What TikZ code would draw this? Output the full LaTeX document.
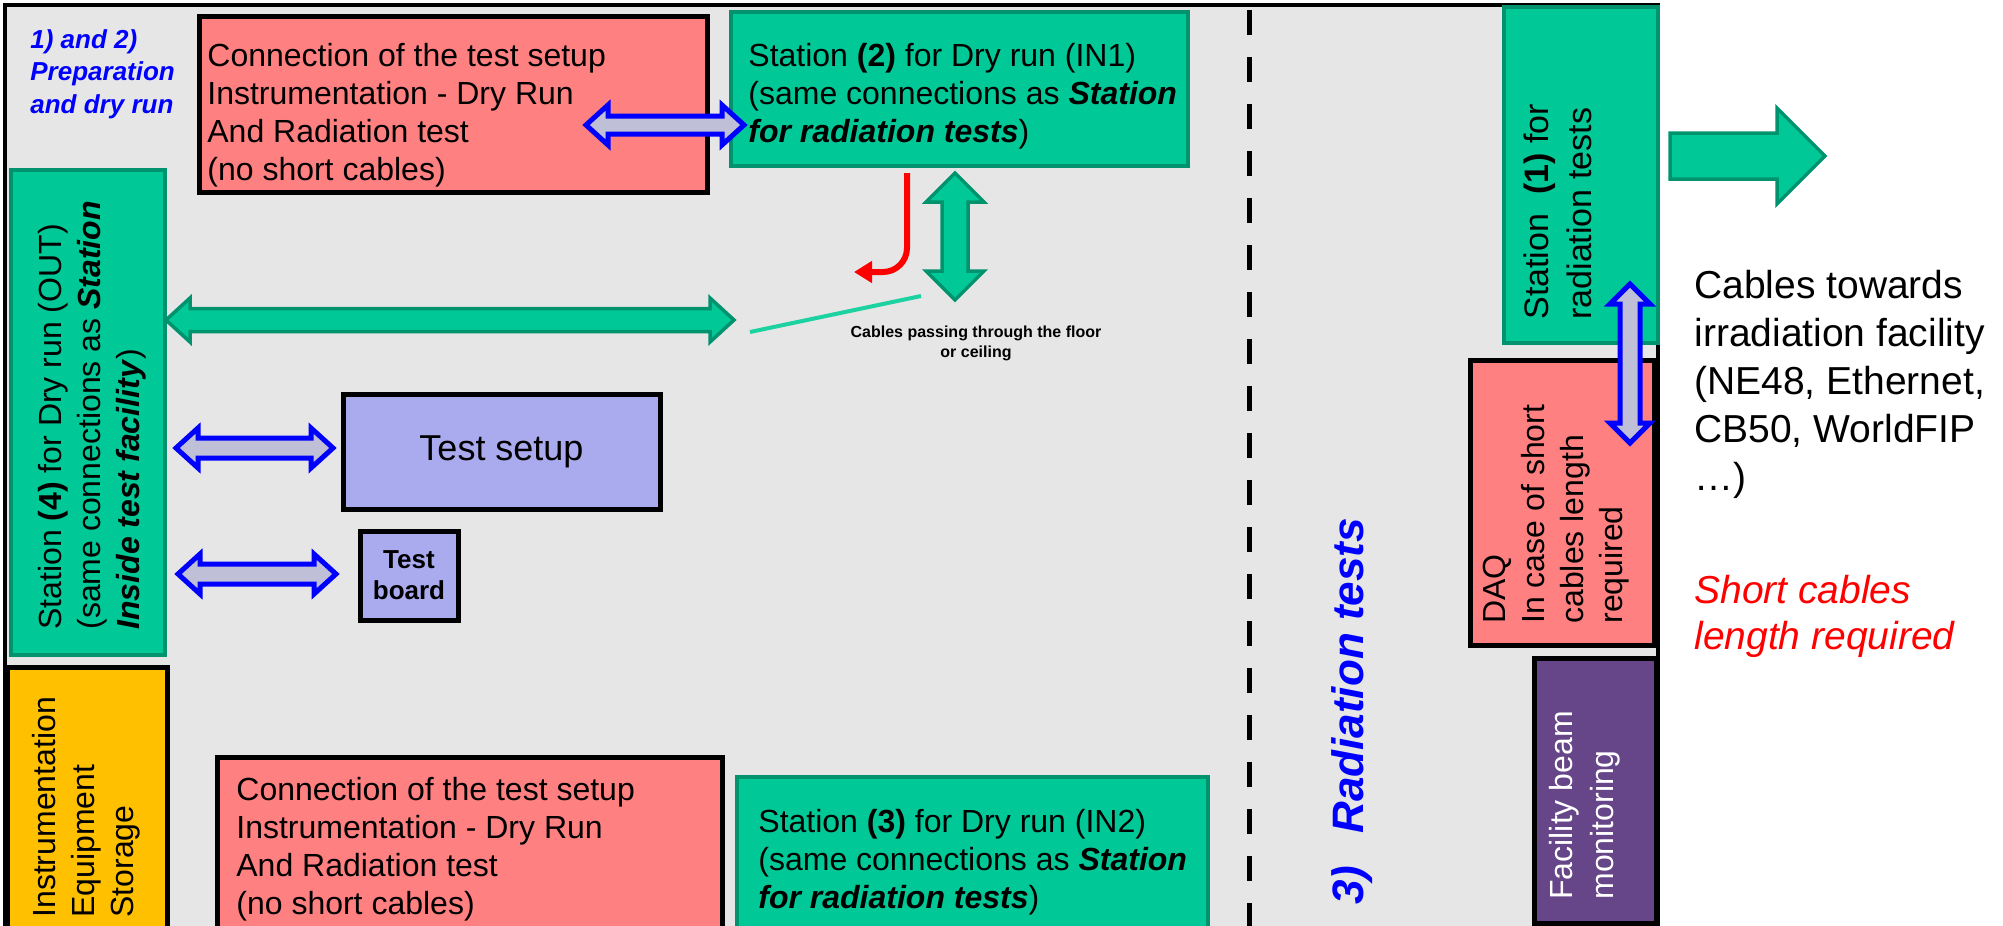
\documentclass[tikz,border=0pt]{standalone}
\usepackage{fontspec}
\setmainfont{Liberation Sans}
\usetikzlibrary{calc, fit, arrows.meta}
\definecolor{roomGray}{HTML}{E6E6E6}
\definecolor{stationGreen}{HTML}{00C896}
\definecolor{stationEdge}{HTML}{00936E}
\definecolor{connRed}{HTML}{FF8080}
\definecolor{setupBlue}{HTML}{AAAAEE}
\definecolor{linkFill}{HTML}{BFBFD8}
\definecolor{beamPurple}{HTML}{664688}
\definecolor{storeYellow}{HTML}{FFC000}
\definecolor{cableGreen}{HTML}{1CD2A0}

% block arrows: [style]{from}{to}{half shaft}{half head}{head length}
\newcommand{\dblarrow}[6][]{%
  \draw[#1] (#2) -- ($(#2)!#6!(#3)!#5!90:(#3)$) -- ($(#2)!#6!(#3)!#4!90:(#3)$)
    -- ($(#3)!#6!(#2)!#4!-90:(#2)$) -- ($(#3)!#6!(#2)!#5!-90:(#2)$) -- (#3)
    -- ($(#3)!#6!(#2)!#5!90:(#2)$) -- ($(#3)!#6!(#2)!#4!90:(#2)$)
    -- ($(#2)!#6!(#3)!#4!-90:(#3)$) -- ($(#2)!#6!(#3)!#5!-90:(#3)$) -- cycle;}
\newcommand{\sglarrow}[6][]{%
  \draw[#1] ($(#2)!#4!90:(#3)$) -- ($(#3)!#6!(#2)!#4!-90:(#2)$)
    -- ($(#3)!#6!(#2)!#5!-90:(#2)$) -- (#3) -- ($(#3)!#6!(#2)!#5!90:(#2)$)
    -- ($(#3)!#6!(#2)!#4!90:(#2)$) -- ($(#2)!#4!-90:(#3)$) -- cycle;}

\begin{document}
\begin{tikzpicture}[x=0.5pt, y=-0.5pt,
    redbox/.style={inner sep=0pt, fill=connRed, draw=black, line width=2.5pt},
    greenbox/.style={inner sep=0pt, fill=stationGreen, draw=stationEdge, line width=2pt},
    setupbox/.style={inner sep=0pt, fill=setupBlue, draw=black, line width=2.5pt},
    txt/.style={inner sep=0pt, align=left, font=\fontsize{16}{19}\selectfont},
    vtxt/.style={txt, rotate=90, anchor=west, font=\fontsize{16}{19.5}\selectfont},
    bluelink/.style={fill=linkFill, draw=blue, line width=2.5pt},
    greenlink/.style={fill=stationGreen, draw=stationEdge, line width=1.75pt},
]

    \useasboundingbox (0,0) rectangle (2003,926);
    \clip (0,0) rectangle (2003,926);

    % the room and the border of the irradiation zone
    \draw[fill=roomGray, line width=2pt] (5,5) rectangle (1658,928);
    \draw[line width=2.5pt, dash pattern=on 12.5pt off 11pt] (1249,10) -- (1249,926);

    \node[anchor=west, align=left, inner sep=0pt, text=blue,
          font=\fontsize{13}{16.25}\selectfont\bfseries\itshape] (phase12) at (30,74)
        {1) and 2)\\Preparation\\and dry run};

    % boxes
    \node[redbox, fit={(199,16) (707,192)}] (conn1) {};
    \node[txt, anchor=west] (conn1txt) at (207,115)
        {Connection of the test setup\\Instrumentation - Dry Run\\And Radiation test\\(no short cables)};
    \node[greenbox, fit={(731,12) (1188,166)}] (st2) {};
    \node[txt, anchor=west] (st2txt) at (748,96)
        {Station \textbf{(2)} for Dry run (IN1)\\(same connections as \textbf{\textit{Station}}\\\textbf{\textit{for radiation tests}})};

    \node[greenbox, fit={(11,170) (165,655)}] (st4) {};
    \node[vtxt] (st4txt) at (92,630)
        {Station \textbf{(4)} for Dry run (OUT)\\(same connections as \textbf{\textit{Station}}\\\textbf{\textit{Inside test facility}})};
    \node[redbox, fill=storeYellow, fit={(7,667) (167,940)}] (store) {};
    \node[vtxt] (storetxt) at (86,918) {Instrumentation\\Equipment\\Storage};

    \node[setupbox, fit={(343,394) (660,509)}] (setup) {};
    \node[inner sep=0pt, font=\fontsize{18}{21}\selectfont] (setuptxt) at (setup.center) {Test setup};
    \node[setupbox, fit={(360,531) (458,620)}] (board) {};
    \node[inner sep=0pt, align=center, font=\fontsize{13}{15.5}\selectfont\bfseries] (boardtxt)
        at (board.center) {Test\\board};

    \node[redbox, fit={(217,757) (722,940)}] (conn2) {};
    \node[txt, anchor=west] (conn2txt) at (236,849)
        {Connection of the test setup\\Instrumentation - Dry Run\\And Radiation test\\(no short cables)};
    \node[greenbox, fit={(737,777) (1208,940)}] (st3) {};
    \node[txt, anchor=west] (st3txt) at (758,862)
        {Station \textbf{(3)} for Dry run (IN2)\\(same connections as \textbf{\textit{Station}}\\\textbf{\textit{for radiation tests}})};

    \node[greenbox, fit={(1504,7) (1658,343)}] (st1) {};
    \node[vtxt, font=\fontsize{17}{21.5}\selectfont] (st1txt) at (1558,320)
        {Station\ \ \textbf{(1)} for\\radiation tests};
    \node[redbox, fit={(1470,360) (1654,645)}] (daq) {};
    \node[vtxt] (daqtxt) at (1556,624) {DAQ\\In case of short\\cables length\\required};
    \node[redbox, fill=beamPurple, fit={(1534,658) (1656,923)}] (beam) {};
    \node[vtxt, text=white, font=\fontsize{16}{20.5}\selectfont] (beamtxt) at (1585,900)
        {Facility beam\\monitoring};

    \node[rotate=90, anchor=west, inner sep=0pt, text=blue,
          font=\fontsize{22}{26}\selectfont\bfseries\itshape] (radtxt) at (1352,905)
        {3)\hspace{16pt}Radiation tests};

    % links
    \coordinate (b1a) at (586,125); \coordinate (b1b) at (744,125);
    \coordinate (b2a) at (176,448); \coordinate (b2b) at (333,448);
    \coordinate (b3a) at (178,574); \coordinate (b3b) at (336,574);
    \coordinate (b4a) at (1630,284); \coordinate (b4b) at (1630,443);
    \coordinate (g1a) at (166,320); \coordinate (g1b) at (734,320);
    \coordinate (g2a) at (955,173); \coordinate (g2b) at (955,300);
    \coordinate (g3a) at (1670,156); \coordinate (g3b) at (1825,156);

    \dblarrow[bluelink]{b1a}{b1b}{4.5pt}{10pt}{11pt}
    \dblarrow[bluelink]{b2a}{b2b}{5pt}{10pt}{11pt}
    \dblarrow[bluelink]{b3a}{b3b}{5pt}{10pt}{11pt}
    \dblarrow[greenlink]{g1a}{g1b}{5.75pt}{11pt}{12pt}
    \dblarrow[greenlink]{g2a}{g2b}{6.5pt}{14.5pt}{14.5pt}
    \sglarrow[greenlink]{g3a}{g3b}{11.5pt}{24pt}{24pt}
    \dblarrow[bluelink]{b4a}{b4b}{5pt}{10pt}{10pt}

    \coordinate (r1) at (907,173); \coordinate (r2) at (854,272);
    \draw[red, line width=3pt, rounded corners=12pt, -{Triangle[length=9pt, width=10.5pt]}] (r1) |- (r2);

    \coordinate (c1) at (750,332); \coordinate (c2) at (921,296);
    \draw[cableGreen, line width=2pt] (c1) -- (c2);
    \node[align=center, inner sep=0pt, font=\fontsize{8}{10}\selectfont\bfseries] (cabletxt) at (976,343)
        {Cables passing through the floor\\or ceiling};

    % outside the room
    \node[txt, anchor=west, font=\fontsize{19.5}{24}\selectfont] (towards) at (1694,384)
        {Cables towards\\irradiation facility\\(NE48, Ethernet,\\CB50, WorldFIP\\…)};
    \node[txt, anchor=west, text=red, font=\fontsize{19.5}{23}\selectfont\itshape] (shortreq) at (1694,616)
        {Short cables\\length required};
\end{tikzpicture}
\end{document}
